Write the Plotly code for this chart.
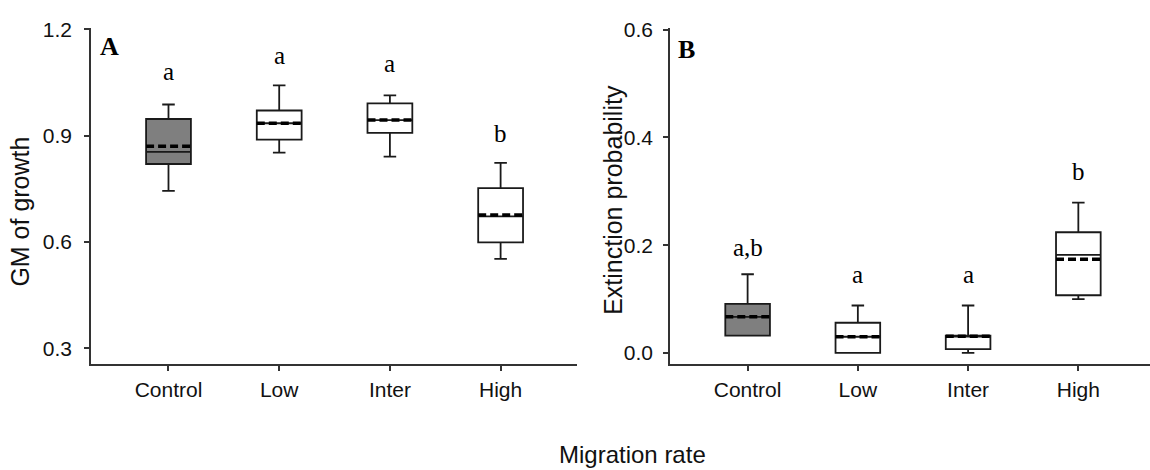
import plotly.graph_objects as go

categories = ["Control", "Low", "Inter", "High"]

# Panel A: GM of growth
a_lower = [0.744, 0.852, 0.841, 0.552]
a_q1 = [0.820, 0.889, 0.908, 0.599]
a_median = [0.854, 0.935, 0.944, 0.672]
a_q3 = [0.947, 0.971, 0.991, 0.752]
a_upper = [0.988, 1.042, 1.014, 0.823]
a_mean = [0.870, 0.935, 0.944, 0.676]
a_letters = ["a", "a", "a", "b"]
a_letter_y = [1.082, 1.127, 1.104, 0.905]

# Panel B: Extinction probability
b_lower = [0.032, 0.000, 0.000, 0.100]
b_q1 = [0.032, 0.000, 0.007, 0.107]
b_median = [0.067, 0.030, 0.032, 0.182]
b_q3 = [0.091, 0.056, 0.032, 0.224]
b_upper = [0.146, 0.088, 0.088, 0.279]
b_mean = [0.067, 0.030, 0.031, 0.174]
b_letters = ["a,b", "a", "a", "b"]
b_letter_y = [0.196, 0.145, 0.145, 0.337]

a_ticks = [0.3, 0.6, 0.9, 1.2]
b_ticks = [0.0, 0.2, 0.4, 0.6]

fills = ["#7f7f7f", "white", "white", "white"]
BOX_W = 0.405
SANS = "Liberation Sans, Arial, sans-serif"
SERIF = "Liberation Serif, Times New Roman, serif"

fig = go.Figure()

def add_panel(xa, ya, lower, q1, med, q3, upper, mean):
    for i in range(len(categories)):
        fig.add_trace(go.Box(
            x=[i], q1=[q1[i]], median=[med[i]], q3=[q3[i]],
            lowerfence=[lower[i]], upperfence=[upper[i]],
            width=BOX_W, whiskerwidth=0.28, boxpoints=False,
            fillcolor=fills[i], line=dict(color="#1a1a1a", width=1.8),
            xaxis=xa, yaxis=ya, showlegend=False, hoverinfo="skip"))
        fig.add_trace(go.Scatter(
            x=[i - BOX_W / 2, i + BOX_W / 2], y=[mean[i], mean[i]],
            mode="lines", line=dict(color="black", width=3.5, dash="8px,4px"),
            xaxis=xa, yaxis=ya, showlegend=False, hoverinfo="skip"))

add_panel("x", "y", a_lower, a_q1, a_median, a_q3, a_upper, a_mean)
add_panel("x2", "y2", b_lower, b_q1, b_median, b_q3, b_upper, b_mean)

ann = []
for i, t in enumerate(a_letters):
    ann.append(dict(x=i, y=a_letter_y[i], xref="x", yref="y", text=t, showarrow=False,
                    font=dict(family=SERIF, size=25, color="black"), xanchor="center", yanchor="middle"))
for i, t in enumerate(b_letters):
    ann.append(dict(x=i, y=b_letter_y[i], xref="x2", yref="y2", text=t, showarrow=False,
                    font=dict(family=SERIF, size=25, color="black"), xanchor="center", yanchor="middle"))

ann.append(dict(x=0.014, y=0.943, xref="x domain", yref="y domain", text="<b>A</b>", showarrow=False,
                font=dict(family=SERIF, size=26, color="black"), xanchor="left", yanchor="middle"))
ann.append(dict(x=0.012, y=0.936, xref="x2 domain", yref="y2 domain", text="<b>B</b>", showarrow=False,
                font=dict(family=SERIF, size=26, color="black"), xanchor="left", yanchor="middle"))

ann.append(dict(x=20 / 1150, y=(470 - 206) / 470, xref="paper", yref="paper", text="GM of growth", textangle=-90,
                showarrow=False, font=dict(family=SANS, size=25, color="#111"), xanchor="center", yanchor="middle"))
ann.append(dict(x=613 / 1150, y=(470 - 194) / 470, xref="paper", yref="paper", text="Extinction probability", textangle=-90,
                showarrow=False, font=dict(family=SANS, size=25, color="#111"), xanchor="center", yanchor="middle"))
ann.append(dict(x=632 / 1150, y=0.033, xref="paper", yref="paper", text="Migration rate",
                showarrow=False, font=dict(family=SANS, size=24, color="#111"), xanchor="center", yanchor="middle"))

axis_common = dict(showline=True, linecolor="#333", linewidth=1.5, ticks="outside", ticklen=5,
                   tickwidth=1.5, tickcolor="#333", showgrid=False, zeroline=False,
                   tickfont=dict(family=SANS, size=21, color="#111"))

ydom = [(470 - 362) / 470, (470 - 18) / 470]

fig.update_layout(
    width=1150, height=470, margin=dict(l=0, r=0, t=0, b=0),
    paper_bgcolor="white", plot_bgcolor="white", showlegend=False,
    annotations=ann,
    xaxis=dict(domain=[91 / 1150, 577 / 1150], range=[-0.70, 3.69], tickvals=list(range(4)),
               ticktext=categories, ticklabelstandoff=1, **axis_common),
    yaxis=dict(domain=ydom, range=[0.2546, 1.205], tickvals=a_ticks,
               ticktext=[f"{v:.1f}" for v in a_ticks], ticklabelstandoff=8, **axis_common),
    xaxis2=dict(domain=[670 / 1150, 1.0], range=[-0.704, 3.65], tickvals=list(range(4)),
                ticktext=categories, ticklabelstandoff=1, anchor="y2", **axis_common),
    yaxis2=dict(domain=ydom, range=[-0.0212, 0.604], tickvals=b_ticks,
                ticktext=[f"{v:.1f}" for v in b_ticks], ticklabelstandoff=6, anchor="x2", **axis_common),
)

fig.write_html("out.html")
